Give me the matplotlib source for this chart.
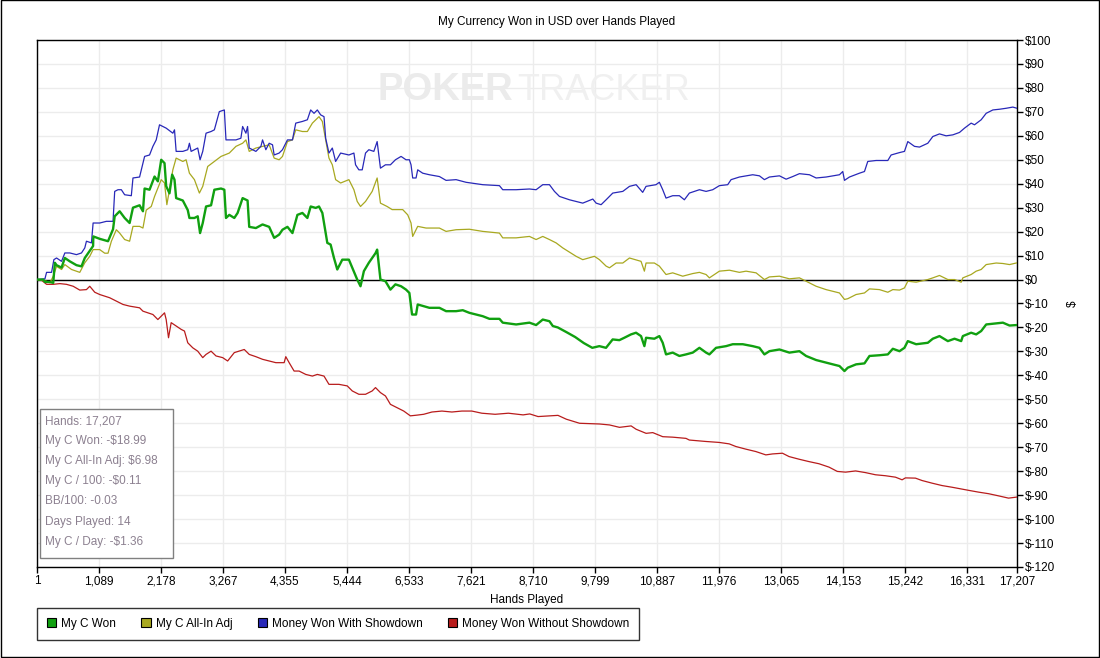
import numpy as np
import matplotlib.pyplot as plt
from matplotlib.patches import Patch, Rectangle
from matplotlib.ticker import FuncFormatter

# series: hand number -> dollars
won_hands = [1, 111, 140, 227, 286, 315, 344, 432, 490, 577, 694, 782, 840, 898, 986, 990, 1102, 1248, 1307, 1336,
             1365, 1452, 1540, 1627, 1686, 1802, 1861, 1890, 1977, 2065, 2123, 2182, 2240, 2269, 2327, 2374, 2415, 2444,
             2561, 2648, 2677, 2765, 2823, 2864, 2911, 2969, 3057, 3115, 3232, 3290, 3319, 3377, 3465, 3523, 3611, 3698,
             3727, 3844, 3961, 4077, 4165, 4252, 4311, 4398, 4486, 4573, 4661, 4748, 4806, 4894, 4952, 5011, 5098, 5156,
             5215, 5273, 5361, 5477, 5536, 5623, 5681, 5740, 5827, 5944, 5973, 6031, 6119, 6206, 6294,
             6393, 6480, 6539, 6586, 6656, 6685, 6773, 6890, 7066, 7183, 7359, 7476, 7593, 7827, 7944, 8120, 8178, 8413,
             8647, 8764, 8881, 8998, 9057, 9145, 9300, 9450, 9600, 9750,
             9874, 9991, 10108, 10225, 10313, 10430, 10518, 10606, 10665, 10694, 10840, 10928, 10987, 11045, 11162,
             11279, 11396, 11514, 11631, 11748, 11806, 11923, 12099, 12216, 12392, 12567, 12685, 12772, 12860, 13036,
             13211, 13387, 13504, 13680, 13855, 13973, 14090, 14178, 14236, 14382, 14529, 14617, 14792, 14939, 15027,
             15144, 15231, 15290, 15436, 15641, 15729, 15846, 15993, 16110, 16227, 16256, 16402, 16490, 16578, 16666,
             16842, 16959, 17076, 17207]
won_usd = [0, 0, -1, -1, -1.4, 7, 6, 5, 9, 7.6, 6, 5.5, 9, 11, 14, 18, 17, 16, 19.4, 21,
           26.4, 28.5, 25.7, 23.6, 30, 31, 28.5, 38, 37.5, 43, 41, 50, 48.6, 39, 36, 43.8, 41.7, 34,
           33, 29, 25.7, 25.7, 26.4, 19.4, 23.6, 30.5, 31, 37.5, 38, 37.5, 25.7, 27, 25.7, 27.8, 34, 33,
           22, 21.5, 23, 22, 17.4, 18.75, 20.8, 22, 19.4, 27, 27.8, 25.7, 30.5, 29.9, 30.5, 27.8, 15.3, 14.6,
           9, 4.2, 8.3, 8.3, 4.9, 0, -2.8, 3.5, 7, 11, 12.5, 0, -0.7, -4.2, -2,
           -2.8, -4.2, -5.6, -14.6, -14.6, -10.4, -11, -11.8, -11.8, -13.2, -13.2, -12.8, -13.9, -15.3, -16.4, -16.4,
           -18, -18.75, -18, -19, -16.7, -17.4, -19.4, -20, -22, -24, -26.5, -28.5,
           -27.8, -28.5, -25, -25.3, -24.3, -22.9, -22.2, -23.6, -27.8, -24.3, -24.7, -23.6, -26.4, -31.25, -30.5,
           -31.9, -31.25, -30.5, -28.5, -30.5, -31.25, -28.5, -27.8, -27, -27, -27.8, -28.5, -31.25, -29.9, -29.2,
           -30.5, -29.9, -31.9, -33.6, -34.7, -35.4, -36.1, -38.2, -36.8, -35.4, -35, -31.9, -31.6, -31.25, -28.9,
           -29.9, -28.5, -25.7, -27, -26.4, -24.7, -23.6, -25.7, -24.7, -25.7, -23.6, -22.2, -22.9, -21.5, -18.75,
           -18.3, -18, -19.2, -18.99]

adj_hands = [1, 169, 227, 286, 344, 432, 490, 607, 752, 840, 927, 986, 1102, 1190, 1248, 1307, 1394, 1452, 1540,
             1627, 1686, 1802, 1861, 1919, 2007, 2065, 2123, 2182, 2240, 2281, 2327, 2386, 2444, 2561, 2619, 2677,
             2765, 2852, 2911, 2998, 3115, 3232, 3377, 3494, 3611, 3669, 3727, 3844, 3961, 4077, 4165, 4252, 4311,
             4398, 4486, 4544, 4661, 4748, 4836, 4952, 5011, 5069, 5127, 5186, 5244, 5332, 5477, 5565, 5623, 5681,
             5769, 5886, 5973, 6031, 6148, 6236, 6294,
             6422, 6510, 6568, 6597, 6685, 6832, 7066, 7183, 7359, 7593, 7827, 8120, 8178, 8413, 8647, 8764, 8881,
             8998, 9115, 9232, 9466, 9583, 9788, 9876, 9993, 10052, 10169, 10286, 10403,
             10606, 10665, 10694, 10840, 10928, 11045, 11162, 11338, 11514, 11631, 11748, 11806, 11982, 12158, 12333,
             12450, 12626, 12772, 12860, 13036, 13211, 13387, 13504, 13680, 13855, 13973, 14090, 14178, 14236, 14382,
             14529, 14617, 14792, 14939, 15027, 15144, 15231, 15290, 15436, 15641, 15729, 15846, 15993, 16110, 16227,
             16256, 16402, 16490, 16578, 16666, 16842, 16959, 17076, 17207]
adj_usd = [0, -0.7, -1.4, 1.4, 5.5, 4.2, 6.25, 4.2, 3, 7, 9.7, 12.5, 12.5, 11, 11, 16, 20.8, 19.4, 16.7,
           16, 22.2, 22.2, 21.5, 29, 30.5, 34.7, 38.2, 41.7, 40.3, 31.25, 37.5, 45.8, 50.7, 49.3, 50, 44.4,
           41.7, 36.1, 38.9, 47.2, 49.3, 51.4, 52.8, 55.6, 56.9, 58.3, 53.5, 54.9, 55.6, 56.25, 50.7, 50, 51.4,
           57.6, 58.3, 62.5, 61.8, 61.8, 65.3, 68, 66, 58.3, 50.7, 47.9, 41.7, 40.3, 41.7, 37.5, 32.6, 30.5,
           32.6, 36.8, 42.4, 31.9, 30.5, 29.2, 29.2,
           29.2, 27, 23.6, 18, 22.2, 21.5, 21.5, 20.1, 20.8, 21, 20.1, 19.4, 17.4, 17.4, 18, 16.7, 18,
           16.7, 15.3, 13.2, 9.7, 8.3, 9.7, 8.3, 5.6, 4.9, 6.9, 6.9, 9,
           7.6, 3.5, 6.9, 6.9, 5.6, 2.1, 2.8, 1.4, 2.5, 3, 2.1, 0.7, 3.5, 3.9, 3,
           3.5, 2.8, 0, 1.1, 1.4, 0.3, 0.7, -0.7, -2.8, -4.2, -4.9, -5.6, -8.3, -8, -6.25,
           -5.6, -3.9, -4.2, -5.3, -4.2, -4.4, -3.5, -0.7, -1.1, 0, 0.7, 1.7, 0, 0, -1.1,
           0.7, 2.1, 3.5, 4.2, 6.25, 6.9, 6.7, 6.25, 6.98]

sd_hands = [1, 140, 169, 257, 297, 344, 432, 490, 577, 694, 782, 840, 869, 957, 986, 1102, 1219, 1336, 1365, 1423,
            1482, 1540, 1657, 1686, 1802, 1890, 1977, 2036, 2094, 2152, 2211, 2269, 2386, 2415, 2444, 2561, 2648,
            2677, 2707, 2765, 2823, 2864, 2911, 2969, 3057, 3115, 3202, 3290, 3319, 3494, 3581, 3611, 3669, 3698,
            3727, 3844, 3932, 3961, 4019, 4077, 4136, 4165, 4252, 4311, 4398, 4486, 4544, 4661, 4748, 4806, 4865,
            4923, 4981, 5040, 5069, 5127, 5186, 5244, 5332, 5477, 5565, 5594, 5652, 5711, 5769, 5827, 5915, 5973,
            6031, 6119, 6206, 6294,
            6393, 6480, 6539, 6568, 6597, 6656, 6685, 6773, 6890, 7066, 7183, 7359, 7534, 7827, 8120, 8178, 8413,
            8647, 8764, 8881, 8998, 9086, 9174, 9349, 9583, 9759, 9818, 9905, 9993, 10110, 10286, 10403, 10520,
            10635, 10694, 10869, 10928, 10987, 11045, 11162, 11279, 11367, 11455, 11631, 11748, 11865, 11982, 12128,
            12187, 12333, 12567, 12685, 12772, 12860, 13036, 13153, 13270, 13387, 13563, 13680, 13855, 13973, 14090,
            14148, 14178, 14265, 14441, 14529, 14587, 14734, 14939, 14997, 15144, 15231, 15290, 15407, 15495, 15641,
            15729, 15846, 15963, 16080, 16197, 16285, 16402, 16461, 16578, 16666, 16783, 16900, 17017, 17134, 17207]
sd_usd = [0, 0.3, 3, 3, 8.3, 9, 7.6, 11.1, 11.1, 10.4, 11.1, 13.2, 16, 15.3, 23.6, 23.6, 24.3, 24.3, 36.8, 37.5,
          37.5, 35.4, 35, 42.4, 42.8, 51.4, 52, 55.6, 58.3, 64.6, 63.9, 63.2, 61.1, 62.5, 53.5, 53.5, 54.2,
          56.9, 53.5, 54.2, 54.9, 50, 53.5, 61.1, 61.8, 62.5, 70.1, 70.8, 58.3, 58.3, 59, 63.9, 61.1, 63.9,
          54.9, 53.5, 55.6, 58.3, 54.2, 56.9, 56.25, 52, 52.8, 54.2, 58.3, 58.3, 65.3, 66, 66.7, 70.8, 69.4,
          70.8, 68.75, 68, 59, 52.8, 54.9, 49.3, 52.8, 52, 52.8, 47.9, 45.8, 45.8, 52.8, 54.2, 53.5, 57.6,
          46.5, 47.9, 47.9, 50,
          51.4, 50, 50, 47.9, 42.4, 42.4, 45.8, 44.4, 43.75, 43, 41.4, 41.7, 40.6, 39.6, 39.2, 37.5, 37.5,
          37.8, 37.5, 39.6, 39.6, 36.8, 34.7, 33.3, 31.9, 33.6, 31.9, 31.25, 33.3, 36.1, 36.8, 38.9, 39.6,
          36.4, 38.9, 39.6, 40.6, 37.5, 34, 35, 35, 33.3, 36.1, 37.5, 36.8, 37.5, 39.2, 39.6,
          41.7, 42.8, 43.75, 43.3, 41.7, 42.8, 43.3, 41.9, 43, 44.2, 43.75, 42.4, 42.8, 43.3, 43.75,
          45.1, 41.4, 42.8, 44.4, 45.1, 49.3, 49.7, 49.7, 52, 53, 53.5, 57.6, 55.6, 55.3, 56.9,
          59.7, 60.8, 60, 60.4, 61.4, 63.2, 65.3, 64.6, 66.7, 69.4, 70.8, 71.1, 71.5, 72, 71.5]

nsd_hands = [1, 82, 169, 286, 402, 519, 636, 752, 869, 927, 1015, 1102, 1277, 1394, 1511, 1627, 1802, 1861, 2036,
             2123, 2182, 2240, 2269, 2310, 2357, 2444, 2532, 2590, 2648, 2736, 2823, 2911, 2969, 3057, 3144, 3261,
             3348, 3465, 3640, 3727, 3844, 3961, 4194, 4340, 4369, 4428, 4515, 4602, 4719, 4836, 4923, 5040, 5127,
             5302, 5448, 5536, 5652, 5769, 5886, 5944, 6031, 6119, 6206, 6323, 6440, 6556, 6673, 6790, 6935, 7110,
             7285, 7460, 7635, 7811, 8044, 8277, 8452,
             8535, 8652, 8798, 9002, 9148, 9294, 9527, 9878, 10053, 10228, 10432, 10520, 10695, 10812, 10987, 11162,
             11395, 11454, 11746, 11979, 12154, 12271, 12446, 12621, 12797, 12914, 13089, 13205, 13380, 13555, 13731,
             13906, 14052, 14198, 14373, 14548, 14723, 14898, 15073, 15190, 15248, 15424, 15540, 15716, 15891, 16066,
             16241, 16358, 16533, 16708, 16883, 17058, 17207]
nsd_usd = [0, -0.3, -2, -2, -1.7, -2, -2.8, -4.4, -4.2, -2.8, -5.3, -6.25, -7.6, -9, -10.4, -11.1, -11.8, -13.2, -14.6,
           -16.7, -15.3, -13.9, -16.7, -24.3, -18, -19.4, -20.8, -21.5, -26.4, -28.5, -29.9, -32.6, -31.25, -29.9,
           -31.9, -32.6, -34, -30.5, -29.2, -31.25, -32.2, -33.3, -34.7, -34.7, -32.2, -34.7, -38.2, -38.2, -39.6,
           -40.3, -39.6, -40.3, -43.75, -43.75, -44.4, -46.5, -47.9, -47.9, -46.5, -45.1, -47.2, -48.6, -52.1, -53.5,
           -54.9, -56.9, -56.6, -56.25, -55.3, -54.9, -55.3, -54.9, -54.9, -55.8, -56.25, -55.8, -56.25,
           -56.5, -56.1, -57.2, -56.9, -56.7, -58.3, -60, -60.3, -60.7, -61.7, -61.1, -62.5, -64.2, -63.9, -65.6,
           -65.8, -66.3, -67, -67.6, -68, -68.6, -69.7, -70.8, -71.8, -73.2, -72.8, -72.5, -73.9, -75, -76, -76.9,
           -78.3, -80.1, -80.4, -79.9, -80.6, -81.5, -81.9, -82.5, -83.6, -82.8, -82.9, -83.9, -85, -86, -86.7,
           -87.5, -88, -88.75, -89.4, -90.3, -91.25, -90.8]

x_ticks = [1, 1089, 2178, 3267, 4355, 5444, 6533, 7621, 8710, 9799, 10887, 11976, 13065, 14153, 15242, 16331, 17207]
y_ticks = list(range(-120, 101, 10))

stats_lines = ["Hands: 17,207", "My C Won: -$18.99", "My C All-In Adj: $6.98", "My C / 100: -$0.11",
               "BB/100: -0.03", "Days Played: 14", "My C / Day: -$1.36"]

names = ["My C Won", "My C All-In Adj", "Money Won With Showdown", "Money Won Without Showdown"]
colors = ["#10a010", "#a8a820", "#2828b8", "#b81c1c"]

W, H = 1100, 658
plt.rcParams['font.family'] = ['Liberation Sans', 'DejaVu Sans']
fig = plt.figure(figsize=(W / 100, H / 100), dpi=100)

def px(x, y):
    # pixel position (top left origin) to figure fraction
    return x / W, 1 - y / H

ax = fig.add_axes([37 / W, 1 - 567 / H, 980 / W, 527 / H])
ax.set_xlim(1, 17207)
ax.set_ylim(-120, 100)

ax.plot(nsd_hands, nsd_usd, color=colors[3], lw=0.9, zorder=3)
ax.plot(adj_hands, adj_usd, color=colors[1], lw=0.9, zorder=3)
ax.plot(sd_hands, sd_usd, color=colors[2], lw=0.9, zorder=4)
ax.plot(won_hands, won_usd, color=colors[0], lw=1.7, zorder=5)
ax.axhline(0, color='black', lw=1, zorder=2)

ax.set_xticks(x_ticks)
ax.set_yticks(y_ticks)
ax.xaxis.set_major_formatter(FuncFormatter(lambda v, p: f"{int(round(v)):,}"))
ax.yaxis.set_major_formatter(FuncFormatter(lambda v, p: f"${int(round(v))}"))
ax.yaxis.tick_right()
ax.yaxis.set_label_position('right')
ax.tick_params(labelsize=8.5, length=4, width=1, color='black', pad=2)
ax.grid(True, color='#ececec', lw=1)
ax.set_axisbelow(True)
for s in ax.spines.values():
    s.set_color('black')
    s.set_linewidth(1)

ax.set_xlabel("Hands Played", fontsize=8.5, labelpad=5)
ax.set_ylabel("$", fontsize=8.5, labelpad=8)
fig.text(*px(557, 22), "My Currency Won in USD over Hands Played", fontsize=8.5, ha='center', va='center')

# watermark
ax.text(*px(378, 90), "POKER", transform=fig.transFigure, fontsize=27.5, color='#ebebeb', fontweight='bold',
        ha='left', va='center', zorder=1)
ax.text(*px(517, 90), "TRACKER", transform=fig.transFigure, fontsize=26, color='#f0f0f0',
        ha='left', va='center', zorder=1)

# stats box
x0, y0 = px(40, 558)
x1, y1 = px(173, 409)
fig.patches.append(Rectangle((x0, y0), x1 - x0, y1 - y0, transform=fig.transFigure, fill=True,
                             facecolor='white', edgecolor='#808080', lw=1, zorder=6))
for i, line in enumerate(stats_lines):
    fig.text(*px(45, 421 + i * 20.1), line, fontsize=8.5, color='#8c8090', ha='left', va='center', zorder=7)

handles = [Patch(facecolor=c, edgecolor='black', lw=0.8) for c in colors]
leg = fig.legend(handles, names, loc='upper left', bbox_to_anchor=px(37, 608), ncol=4, fontsize=8.5,
                 frameon=True, fancybox=False, edgecolor='black', handlelength=0.8, handleheight=0.8,
                 handletextpad=0.4, columnspacing=2.15, borderpad=0.85, borderaxespad=0)
leg.get_frame().set_linewidth(1)

fig.patches.append(Rectangle((0.0005, 0.0008), 0.999, 0.9985, transform=fig.transFigure, fill=False,
                             edgecolor='black', lw=1))

fig.savefig("out.png", dpi=100)
